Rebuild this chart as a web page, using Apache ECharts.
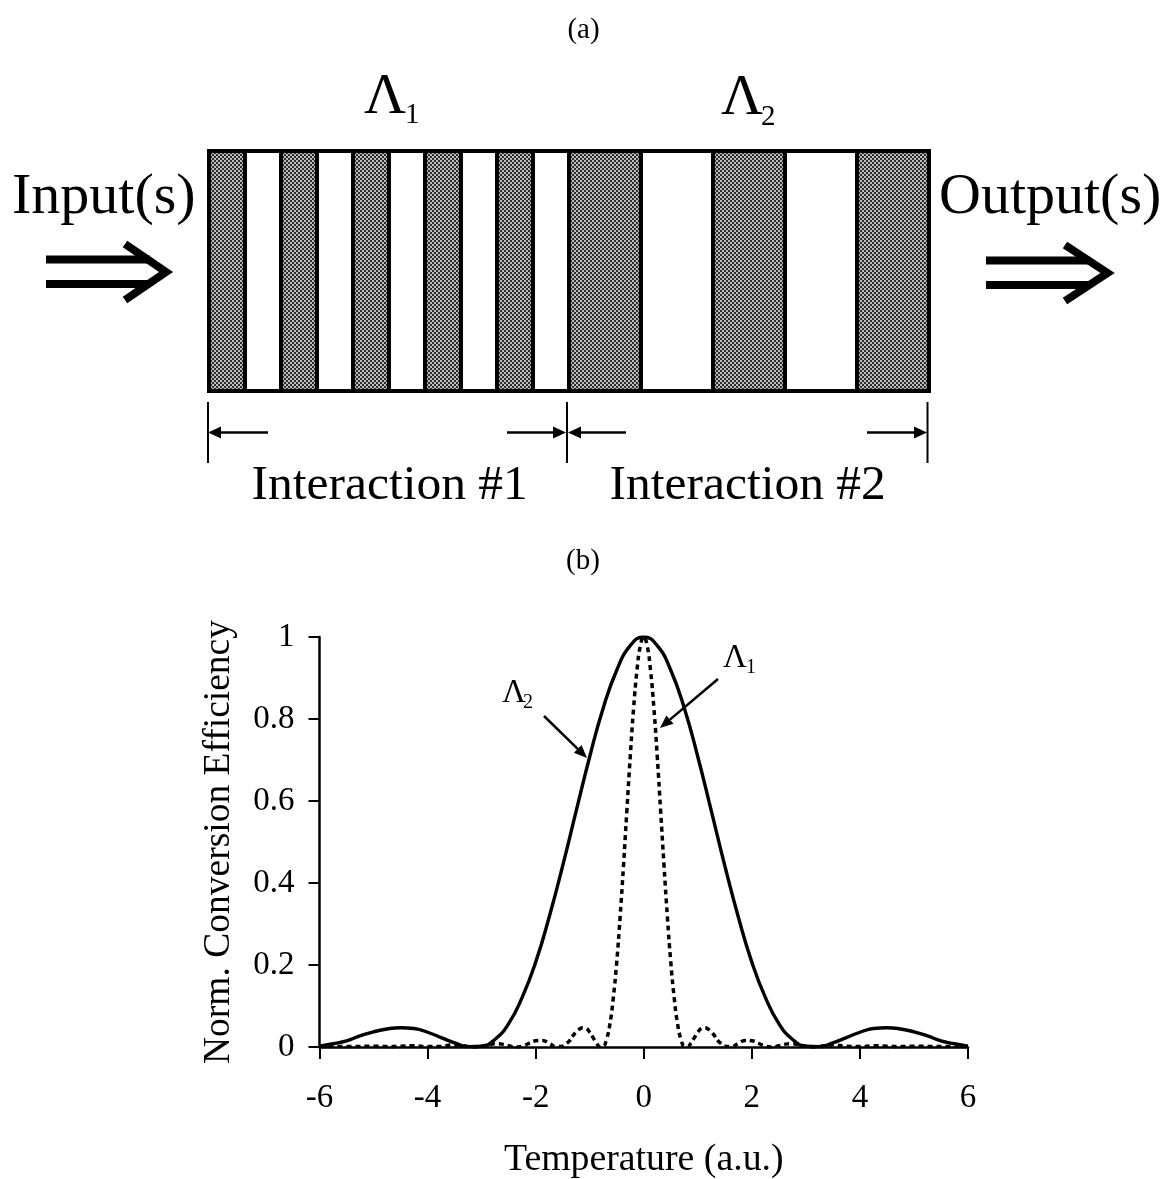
<!DOCTYPE html>
<html><head><meta charset="utf-8">
<style>html,body{margin:0;padding:0;background:#fff}#c{width:1167px;height:1179px}</style>
<script src="https://cdn.jsdelivr.net/npm/echarts@6/dist/echarts.min.js"></script>
</head><body><div id="c"></div>
<script>
// ---- data: panel (b) curves ----
const xLambda2 = [-6,-5.75,-5.5,-5.25,-5,-4.75,-4.5,-4.25,-4,-3.75,-3.5,-3.25,-3,-2.75,-2.5,-2.25,-2,-1.75,-1.5,-1.25,-1,-0.75,-0.5,-0.25,0,0.25,0.5,0.75,1,1.25,1.5,1.75,2,2.25,2.5,2.75,3,3.25,3.5,3.75,4,4.25,4.5,4.75,5,5.25,5.5,5.75,6];
const yLambda2 = [0.002,0.008,0.015,0.027,0.037,0.044,0.047,0.045,0.036,0.023,0.01,0.001,0.002,0.019,0.057,0.121,0.207,0.317,0.442,0.576,0.708,0.827,0.919,0.979,1,0.979,0.919,0.827,0.708,0.576,0.442,0.317,0.207,0.121,0.057,0.019,0.002,0.001,0.01,0.023,0.036,0.045,0.047,0.044,0.037,0.027,0.015,0.008,0.002];
const xLambda1Right = [0,0.0625,0.125,0.1875,0.25,0.3125,0.375,0.4375,0.5,0.5625,0.625,0.6875,0.75,0.8125,0.875,0.9375,1,1.0625,1.125,1.1875,1.25,1.3125,1.375,1.4375,1.5,1.625,1.75,1.875,2,2.125,2.25,2.375,2.5,2.625,2.75,2.875,3,3.125,3.25,3.375,3.5,3.75,4,4.25,4.5,4.75,5,5.5,6];
const yLambda1Right = [1,0.979,0.919,0.827,0.708,0.576,0.442,0.317,0.207,0.121,0.057,0.019,0.002,0.001,0.01,0.023,0.036,0.045,0.047,0.044,0.037,0.027,0.015,0.008,0.002,0.001,0.009,0.016,0.015,0.009,0.002,0,0.003,0.007,0.008,0.006,0.002,0,0.001,0.004,0.005,0.002,0.001,0.003,0.002,0.001,0.002,0.001,0.001];
const xTicksMin = -6, xTicksMax = 6, xTickStep = 2;
const yTickStep = 0.2;

// ---- data: panel (a) grating, widths of alternating domains in units of the Λ1 domain ----
const domainWidths1 = [1,1,1,1,1,1,1,1,1,1];
const domainWidths2 = [2,2,2,2,2];

// ---- text ----
const panelA = '(a)', panelB = '(b)';
const inputLabel = 'Input(s)', outputLabel = 'Output(s)';
const interaction1 = 'Interaction #1', interaction2 = 'Interaction #2';
const xAxisName = 'Temperature (a.u.)', yAxisName = 'Norm. Conversion Efficiency';

const SERIF = '"Liberation Serif","Times New Roman",serif';

const dither = document.createElement('canvas');
dither.width = 4; dither.height = 4;
(function(){
  const g = dither.getContext('2d');
  g.fillStyle = '#2c2c2c'; g.fillRect(0,0,4,4);
  g.fillStyle = '#bdbdbd'; g.fillRect(0,0,2,2); g.fillRect(2,2,2,2);
})();

const domains = [];
(function(){
  let pos = 0, k = 0;
  domainWidths1.concat(domainWidths2).forEach(function(w){
    domains.push([pos, pos + w, k % 2]);
    pos += w; k++;
  });
})();

const lambda1 = xLambda1Right.slice().reverse().map(function(x,i){
  return [-x, yLambda1Right[yLambda1Right.length-1-i]];
}).concat(xLambda1Right.slice(1).map(function(x,i){ return [x, yLambda1Right[i+1]]; }));
const lambda2 = xLambda2.map(function(x,i){ return [x, yLambda2[i]]; });

// y is the text's baseline
function T(x,y,text,size,align){
  return {type:'text',x:x,y:y-0.75*size,style:{text:text,fontFamily:SERIF,fontSize:size,fill:'#000',
    align:align||'left',verticalAlign:'top'},silent:true};
}
function arrow(x1,y1,x2,y2,lw,len,half){
  const a = Math.atan2(y2-y1,x2-x1), c=Math.cos(a), s=Math.sin(a);
  const bx = x2-len*c, by = y2-len*s;
  return [
    {type:'line',shape:{x1:x1,y1:y1,x2:bx,y2:by},style:{stroke:'#000',lineWidth:lw},silent:true},
    {type:'polygon',shape:{points:[[x2,y2],[bx-half*s,by+half*c],[bx+half*s,by-half*c]]},style:{fill:'#000'},silent:true}
  ];
}
function doubleArrow(x0,xShaftEnd,xBack,xTip,yc){
  return [
    {type:'line',shape:{x1:x0,y1:yc-12.5,x2:xShaftEnd,y2:yc-12.5},style:{stroke:'#000',lineWidth:8},silent:true},
    {type:'line',shape:{x1:x0,y1:yc+12,x2:xShaftEnd,y2:yc+12},style:{stroke:'#000',lineWidth:8},silent:true},
    {type:'polyline',shape:{points:[[xBack,yc-28],[xTip-6,yc],[xBack,yc+28]]},style:{stroke:'#000',fill:null,lineWidth:8,lineJoin:'miter'},silent:true}
  ];
}
function vbar(x){ return {type:'line',shape:{x1:x,y1:402,x2:x,y2:463},style:{stroke:'#000',lineWidth:2},silent:true}; }

const graphics = [].concat(
  [T(583.5,38,panelA,29,'center'),T(583,569,panelB,29,'center')],
  [T(364,112,'Λ',58),T(405,123,'1',29),T(721,113,'Λ',58),T(761,125,'2',29)],
  [T(12,212,inputLabel,58),T(939,212,outputLabel,58)],
  doubleArrow(46,150,125,172,272),
  doubleArrow(986,1090,1065,1113.5,273),
  [vbar(208),vbar(567),vbar(927.5)],
  arrow(268,432.5,208,432.5,2.5,13,6),
  arrow(507,432.5,566,432.5,2.5,13,6),
  arrow(626,432.5,568,432.5,2.5,13,6),
  arrow(867,432.5,927,432.5,2.5,13,6),
  [T(251.5,498,interaction1,49.5),T(609.5,498,interaction2,49.5)],
  [T(502,702,'Λ',33),T(523,708,'2',20),T(723,667,'Λ',33),T(746,673,'1',20)],
  arrow(544,716,587,758,2.5,13,5.5),
  arrow(718,679,660,728,2.5,13,5.5)
);

const chart = echarts.init(document.getElementById('c'),null,{renderer:'canvas'});
chart.setOption({
  animation:false,
  backgroundColor:'#fff',
  textStyle:{fontFamily:SERIF,color:'#000'},
  grid:[
    {left:319.5,top:637,width:648.5,height:410,outerBoundsMode:'none'},
    {left:209,top:151,width:720,height:240,outerBoundsMode:'none'}
  ],
  xAxis:[
    {type:'value',gridIndex:0,min:xTicksMin,max:xTicksMax,interval:xTickStep,
     name:xAxisName,nameLocation:'middle',nameGap:94,nameTextStyle:{fontFamily:SERIF,fontSize:37.8,color:'#000'},
     axisLine:{onZero:false,lineStyle:{color:'#000',width:2.5}},
     axisTick:{length:12,lineStyle:{color:'#000',width:2}},
     axisLabel:{fontFamily:SERIF,fontSize:33,color:'#000',margin:35},
     splitLine:{show:false}},
    {type:'value',gridIndex:1,min:0,max:20,show:false}
  ],
  yAxis:[
    {type:'value',gridIndex:0,min:0,max:1,interval:yTickStep,
     name:yAxisName,nameLocation:'middle',nameGap:81,nameTextStyle:{fontFamily:SERIF,fontSize:37.5,color:'#000'},
     axisLine:{onZero:false,lineStyle:{color:'#000',width:2.5}},
     axisTick:{length:11,lineStyle:{color:'#000',width:2}},
     axisLabel:{fontFamily:SERIF,fontSize:33,color:'#000',margin:25},
     splitLine:{show:false}},
    {type:'value',gridIndex:1,min:0,max:1,show:false}
  ],
  series:[
    {type:'custom',xAxisIndex:1,yAxisIndex:1,silent:true,data:domains,
     renderItem:function(params,api){
       const a=api.coord([api.value(0),1]), b=api.coord([api.value(1),0]);
       return {type:'rect',shape:{x:a[0],y:a[1],width:b[0]-a[0],height:b[1]-a[1]},
         style:{fill:api.value(2)===0?{image:dither,repeat:'repeat'}:'#fff',stroke:'#000',lineWidth:4}};
     },
     encode:{x:[0,1],y:2}},
    {type:'line',name:'Λ1',xAxisIndex:0,yAxisIndex:0,data:lambda1,showSymbol:false,smooth:0.5,silent:true,
     lineStyle:{color:'#000',width:3.5,type:[5,4]}},
    {type:'line',name:'Λ2',xAxisIndex:0,yAxisIndex:0,data:lambda2,showSymbol:false,smooth:0.5,silent:true,
     lineStyle:{color:'#000',width:3.4}}
  ],
  graphic:{elements:graphics}
});
</script></body></html>
